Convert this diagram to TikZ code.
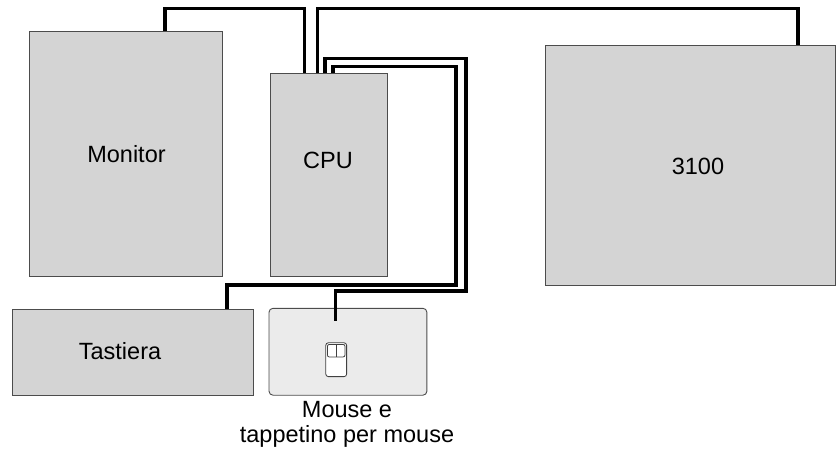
\documentclass[tikz,border=0pt]{standalone}
\usepackage{fontspec}
\setmainfont{Liberation Sans}
\begin{document}
\begin{tikzpicture}[x=1pt,y=-1pt,
  boxstyle/.style={draw=black!70,line width=0.9pt,fill=black!17,inner sep=0pt,anchor=north west,font=\fontsize{23.5}{28}\selectfont},
  cable/.style={line width=3.2pt,black,line join=miter}]
\useasboundingbox (0,0) rectangle (836,453);
\tikzset{sized/.style 2 args={minimum width=#1 pt,minimum height=#2 pt}}
\node[boxstyle,sized={193}{245}] (monitor) at (28.7,31) {};
\node[boxstyle,sized={117}{203}] (cpu) at (270,73) {};
\node[boxstyle,sized={290}{240}] (printer) at (544.5,45) {};
\node[boxstyle,sized={241}{86}] (keyboard) at (12,308.7) {};
\node[boxstyle,sized={157}{86},draw=none,fill=none] (pad) at (269,308.3) {};
\node[font=\fontsize{23.5}{28}\selectfont] (monitorlabel) at (126.5,154.5) {Monitor};
\node[font=\fontsize{23.5}{28}\selectfont] (cpulabel) at (328,160.5) {CPU};
\node[font=\fontsize{23.5}{28}\selectfont] (printerlabel) at (698,166.5) {3100};
\node[font=\fontsize{23.5}{28}\selectfont] (keyboardlabel) at (120,351.5) {Tastiera};
\fill[black!8,draw=black!70,line width=0.9pt,rounded corners=4pt] (pad.north west) rectangle (pad.south east);
\node[align=center,font=\fontsize{23.5}{25.5}\selectfont] (padlabel) at (347,424.5) {Mouse e\\tappetino per mouse};
\coordinate (c1) at (165,31);
\coordinate (c2) at (304.5,73);
\coordinate (c3) at (317.8,73);
\coordinate (c4) at (798,45);
\coordinate (c5) at (325,73);
\coordinate (c6) at (333,73);
\coordinate (c7) at (335.8,321);
\coordinate (c8) at (227,309);
\draw[cable] (c1) |- (304.5,8.8) -- (c2);
\draw[cable] (c3) |- (798,8.8) -- (c4);
\draw[cable] (c5) |- (466,58.7) |- (335.8,291) -- (c7);
\draw[cable] (c6) |- (456,66.7) |- (227,285) -- (c8);
\draw[black!75,line width=0.8pt,fill=white,rounded corners=2.5pt] (325.8,342.8) rectangle (346.6,376.6);
\draw[black!75,line width=0.8pt,fill=white,rounded corners=2pt] (327.4,344.4) rectangle (345,357);
\draw[black!75,line width=0.8pt] (336.2,344.4) -- (336.2,357);
\end{tikzpicture}
\end{document}
